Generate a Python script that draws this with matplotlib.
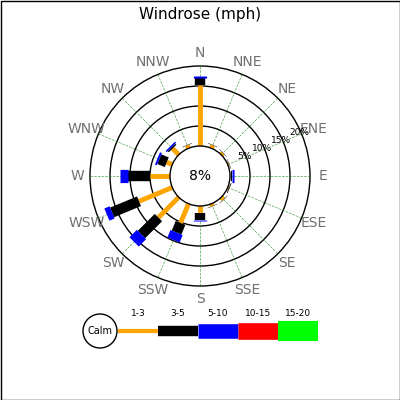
import numpy as np
import matplotlib
matplotlib.use("Agg")
import matplotlib.pyplot as plt
from matplotlib.patches import Circle, Rectangle

directions = ["N", "NNE", "NE", "ENE", "E", "ESE", "SE", "SSE",
              "S", "SSW", "SW", "WSW", "W", "WNW", "NW", "NNW"]
# cumulative percentages per speed class (1-3, 3-5, 5-10)
cum_1_3 = [15.2, 0.8, 0.6, 0.3, 0.3, 0.3, 0.8, 0.6, 1.8, 5.2, 7.2, 9.0, 5.0, 1.5, 2.2, 0.8]
cum_3_5 = [17.0, 0.9, 0.7, 0.4, 0.5, 0.5, 0.9, 0.7, 3.5, 7.8, 13.2, 16.3, 10.5, 3.5, 2.6, 0.9]
cum_5_10 = [17.5, 0.9, 0.7, 0.4, 0.9, 0.5, 0.9, 0.7, 3.8, 9.8, 15.8, 17.7, 12.5, 4.0, 3.0, 0.9]
calm = 8
rings = [5, 10, 15, 20]
classes = ["1-3", "3-5", "5-10", "10-15", "15-20"]
class_colors = ["orange", "black", "blue", "red", "#00ff00"]
class_widths = [3.5, 7.5, 9.5, 11, 13]
legend_widths = [3, 7.5, 10.5, 12, 14.5]

cx, cy = 200, 176
calm_r = 30
px_per_pct = 4

def rad(p):
    return calm_r + p * px_per_pct

def pt(r, ang):
    return cx + r * np.sin(ang), cy - r * np.cos(ang)

fig = plt.figure(figsize=(4, 4), dpi=100)
ax = fig.add_axes([0, 0, 1, 1])
ax.set_xlim(0, 400)
ax.set_ylim(400, 0)
ax.axis("off")
ax.add_patch(Rectangle((0.5, 0.5), 399, 399, fill=False, ec="black", lw=1))

ax.text(200, 15, "Windrose (mph)", ha="center", va="center", fontsize=11)

# grid
for i, d in enumerate(directions):
    a = np.radians(i * 22.5)
    x0, y0 = pt(calm_r, a)
    x1, y1 = pt(rad(rings[-1]), a)
    ax.plot([x0, x1], [y0, y1], ls="--", color="green", lw=0.5, alpha=0.7)
    lx, ly = pt(rad(rings[-1]) + 13, a)
    ax.text(lx, ly, d, ha="center", va="center", fontsize=10, color="#707070")
for r in rings:
    ax.add_patch(Circle((cx, cy), rad(r), fill=False, ec="black", lw=1))
    lx, ly = pt(rad(r) - 2, np.radians(66.5))
    ax.text(lx, ly, "%d%%" % r, ha="center", va="center", fontsize=6.5, zorder=7)
ax.add_patch(Circle((cx, cy), calm_r, fc="white", ec="black", lw=1, zorder=5))
ax.text(cx, cy, "%d%%" % calm, ha="center", va="center", fontsize=10, zorder=6)

# bars
series = [cum_1_3, cum_3_5, cum_5_10]
for i in range(len(directions)):
    a = np.radians(i * 22.5)
    start = 0
    for k, s in enumerate(series):
        end = s[i]
        if end > start:
            x0, y0 = pt(rad(start), a)
            x1, y1 = pt(rad(end), a)
            ax.plot([x0, x1], [y0, y1], color=class_colors[k], lw=class_widths[k],
                    solid_capstyle="butt", zorder=4)
        start = max(start, end)

# legend
ax.add_patch(Circle((100, 331), 17, fc="white", ec="black", lw=1, zorder=5))
ax.text(100, 331, "Calm", ha="center", va="center", fontsize=7, zorder=6)
seg = 40
for k, c in enumerate(classes):
    x0 = 118 + k * seg
    ax.plot([x0, x0 + seg], [331, 331], color=class_colors[k], lw=legend_widths[k],
            solid_capstyle="butt")
    ax.text(x0 + seg / 2, 314, c, ha="center", va="center", fontsize=6.5)

fig.savefig("out.png", dpi=100)
